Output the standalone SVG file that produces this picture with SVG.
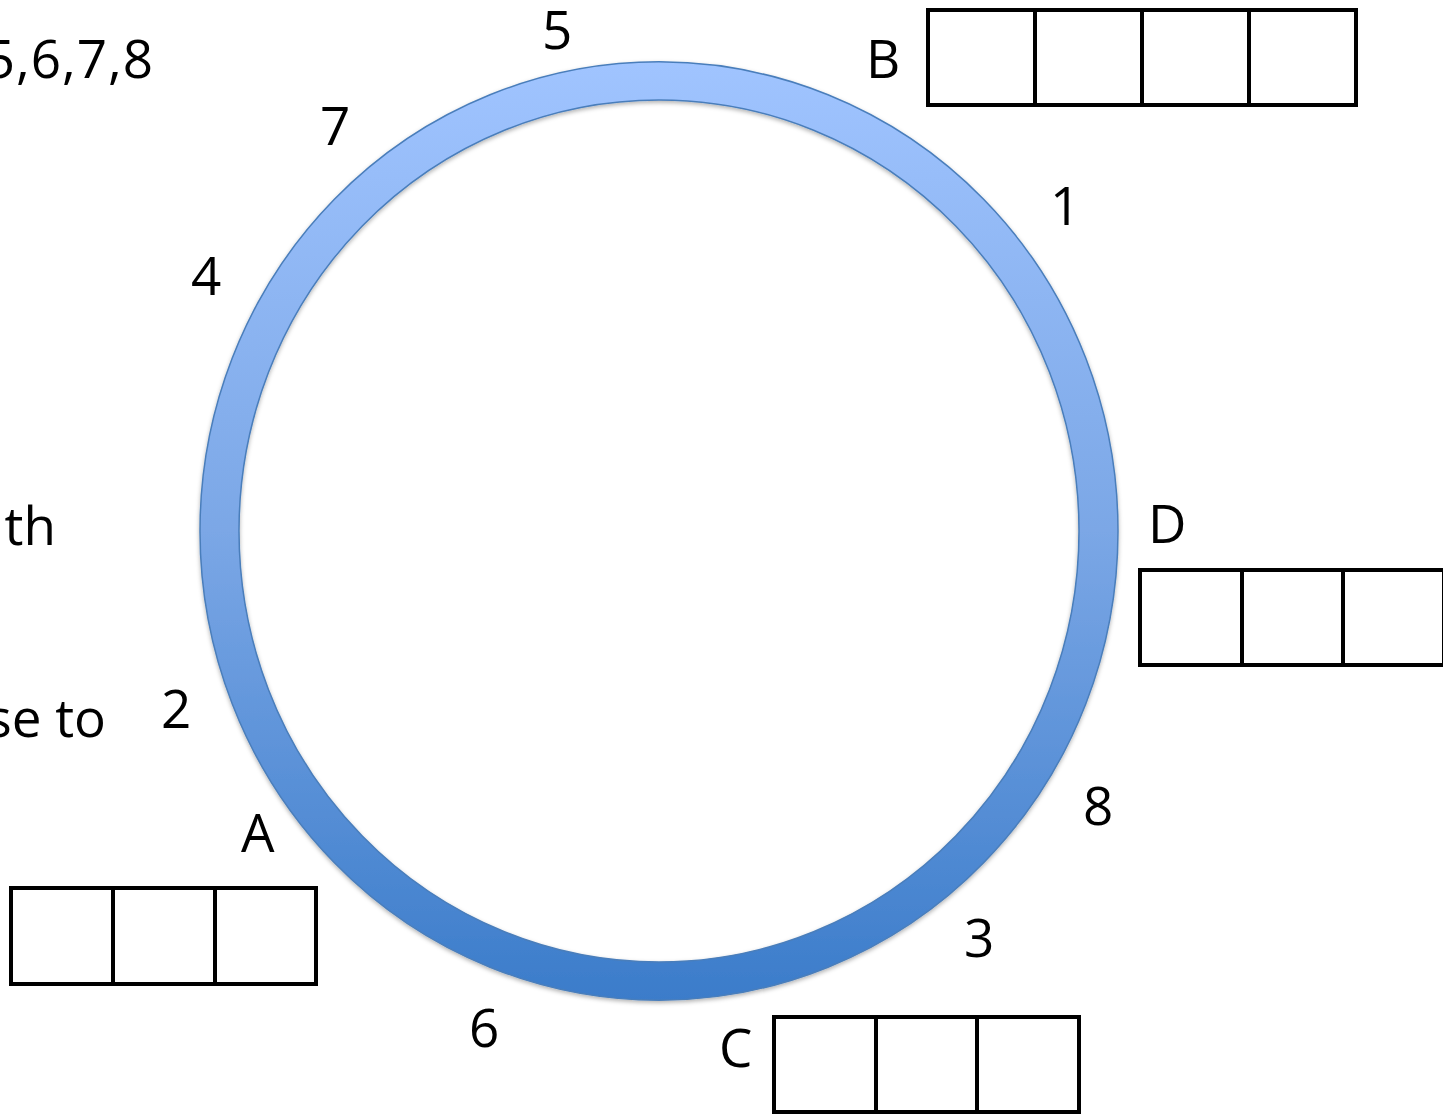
<svg xmlns="http://www.w3.org/2000/svg" width="1443" height="1114" viewBox="0 0 1443 1114">
<style>
text{font-family:"Open Sans","Noto Sans","Liberation Sans",sans-serif;font-size:53px;fill:#000}
.cell{fill:#fff;stroke:#000;stroke-width:4}
</style>
<defs>
<linearGradient id="rg" x1="0" y1="0" x2="0" y2="1">
<stop offset="0" stop-color="#a0c4ff"/>
<stop offset="0.5" stop-color="#7ba7e6"/>
<stop offset="1" stop-color="#3b7cca"/>
</linearGradient>
<filter id="sh" x="-10%" y="-10%" width="120%" height="120%">
<feDropShadow dx="0" dy="2" stdDeviation="2" flood-color="#000" flood-opacity="0.3"/>
</filter>
</defs>
<rect width="1443" height="1114" fill="#fff"/>
<g id="ring">
<path filter="url(#sh)" fill="url(#rg)" fill-rule="evenodd" stroke="#4a7ebb" stroke-width="1.5" d="M200,531 A459,469 0 1,0 1118,531 A459,469 0 1,0 200,531 Z M239,531 A420,431 0 1,1 1079,531 A420,431 0 1,1 239,531 Z"/>
</g>
<g id="left-text">
<text x="154" y="78" text-anchor="end" letter-spacing="1">5,6,7,8</text>
<text x="56" y="545" text-anchor="end">th</text>
<text x="106" y="737" text-anchor="end">se to</text>
</g>
<g id="numbers">
<text x="542" y="49">5</text>
<text x="320" y="145">7</text>
<text x="1050" y="225">1</text>
<text x="191" y="295">4</text>
<text x="161" y="728">2</text>
<text x="1083" y="825">8</text>
<text x="964" y="957">3</text>
<text x="469" y="1047">6</text>
</g>
<g id="node-B">
<text x="866" y="78">B</text>
<rect class="cell" x="928" y="10" width="107" height="95"/>
<rect class="cell" x="1035" y="10" width="107" height="95"/>
<rect class="cell" x="1142" y="10" width="107" height="95"/>
<rect class="cell" x="1249" y="10" width="107" height="95"/>
</g>
<g id="node-D">
<text x="1148" y="543">D</text>
<rect class="cell" x="1140" y="570" width="102" height="95"/>
<rect class="cell" x="1242" y="570" width="101" height="95"/>
<rect class="cell" x="1343" y="570" width="101" height="95"/>
</g>
<g id="node-A">
<text x="241" y="852">A</text>
<rect class="cell" x="11" y="888" width="102" height="96"/>
<rect class="cell" x="113" y="888" width="102" height="96"/>
<rect class="cell" x="215" y="888" width="101" height="96"/>
</g>
<g id="node-C">
<text x="719" y="1067">C</text>
<rect class="cell" x="774" y="1017" width="102" height="95"/>
<rect class="cell" x="876" y="1017" width="101" height="95"/>
<rect class="cell" x="977" y="1017" width="102" height="95"/>
</g>
<g id="connectors"/>
</svg>
